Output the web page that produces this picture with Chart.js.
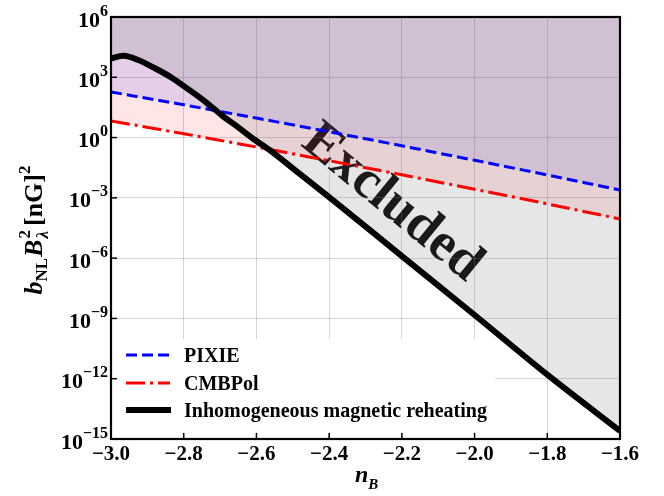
<!DOCTYPE html>
<html><head><meta charset="utf-8">
<script src="https://cdn.jsdelivr.net/npm/chart.js@4.4.1/dist/chart.umd.min.js"></script>
<style>html,body{margin:0;padding:0;background:#fff;}#wrap{width:664px;height:496px;position:relative;}</style>
</head><body><div id="wrap"><canvas id="c"></canvas></div>
<script>
// ---- data (values are log10 of b_NL B^2) ----
const nB = [-3.0, -2.8, -2.6, -2.4, -2.2, -2.0, -1.8, -1.6];
const pixieLog = [2.27, 1.63, 0.97, 0.29, -0.41, -1.13, -1.86, -2.61];
const cmbpolLog = [0.83, 0.19, -0.47, -1.15, -1.85, -2.57, -3.30, -4.05];
const reheatN = [-3.0, -2.966, -2.925, -2.879, -2.833, -2.787, -2.741, -2.696, -2.650, -2.604, -2.558, -2.5, -2.4, -2.2, -2.0, -1.8, -1.6];
const reheatLog = [3.94, 4.07, 3.86, 3.45, 2.98, 2.40, 1.79, 1.12, 0.51, -0.12, -0.70, -1.53, -2.96, -5.90, -8.83, -11.80, -14.60];
const xTicks = [-3.0, -2.8, -2.6, -2.4, -2.2, -2.0, -1.8, -1.6];
const xTickLabels = ['\u22123.0', '\u22122.8', '\u22122.6', '\u22122.4', '\u22122.2', '\u22122.0', '\u22121.8', '\u22121.6'];
const yTickExp = [6, 3, 0, -3, -6, -9, -12, -15];
const legendLabels = ['PIXIE', 'CMBPol', 'Inhomogeneous magnetic reheating'];

const SERIF = '"Liberation Serif", "Times New Roman", serif';
const pts = (xs, ls) => xs.map((x, i) => ({x: x, y: Math.pow(10, ls[i])}));

function drawRich(ctx, pieces, x, y) {
  let cx = x;
  for (const p of pieces) {
    ctx.font = p.font;
    ctx.fillText(p.t, cx, y + (p.dy || 0));
    if (!p.noAdv) cx += ctx.measureText(p.t).width + (p.sp || 0);
  }
  return cx - x;
}
function richWidth(ctx, pieces) {
  let w = 0;
  for (const p of pieces) { ctx.font = p.font; if (!p.noAdv) w += ctx.measureText(p.t).width + (p.sp || 0); }
  return w;
}

const custom = {
  id: 'custom',
  beforeDraw(chart) {
    const ctx = chart.ctx;
    ctx.save();
    ctx.translate(392, 203);
    ctx.rotate(39.5 * Math.PI / 180);
    ctx.font = 'bold 54px ' + SERIF;
    ctx.fillStyle = '#000';
    ctx.textAlign = 'center';
    ctx.textBaseline = 'middle';
    ctx.fillText('Excluded', 0, 0);
    ctx.restore();
  },
  afterDraw(chart) {
    const ctx = chart.ctx;
    const a = chart.chartArea;
    const xs = chart.scales.x, ys = chart.scales.y;
    ctx.save();
    // legend box
    ctx.fillStyle = '#fff';
    ctx.fillRect(a.left + 2, 339, 382, 93);
    const rows = [355, 383, 410];
    ctx.lineCap = 'butt';
    ctx.strokeStyle = '#0000ff'; ctx.lineWidth = 3; ctx.setLineDash([11, 5]);
    ctx.beginPath(); ctx.moveTo(126, rows[0]); ctx.lineTo(170, rows[0]); ctx.stroke();
    ctx.strokeStyle = '#ff0000'; ctx.setLineDash([19, 5, 3, 5]);
    ctx.beginPath(); ctx.moveTo(126, rows[1]); ctx.lineTo(170, rows[1]); ctx.stroke();
    ctx.strokeStyle = '#000'; ctx.lineWidth = 6; ctx.setLineDash([]);
    ctx.beginPath(); ctx.moveTo(126, rows[2]); ctx.lineTo(171, rows[2]); ctx.stroke();
    ctx.fillStyle = '#000';
    ctx.font = 'bold 20px ' + SERIF;
    ctx.textAlign = 'left'; ctx.textBaseline = 'alphabetic';
    legendLabels.forEach((t, i) => ctx.fillText(t, 184, rows[i] + 7));

    // frame
    ctx.strokeStyle = '#000'; ctx.lineWidth = 2.2;
    ctx.strokeRect(a.left, a.top, a.right - a.left, a.bottom - a.top);
    // inward ticks
    ctx.lineWidth = 1.5;
    xTicks.forEach(v => {
      const px = xs.getPixelForValue(v);
      ctx.beginPath(); ctx.moveTo(px, a.bottom); ctx.lineTo(px, a.bottom - 6); ctx.stroke();
    });
    yTickExp.forEach(e => {
      const py = ys.getPixelForValue(Math.pow(10, e));
      ctx.beginPath(); ctx.moveTo(a.left, py); ctx.lineTo(a.left + 6, py); ctx.stroke();
    });
    // x tick labels
    ctx.font = 'bold 21px ' + SERIF;
    ctx.textAlign = 'center';
    xTicks.forEach((v, i) => {
      ctx.fillText(xTickLabels[i], xs.getPixelForValue(v), a.bottom + 21);
    });
    // y tick labels
    ctx.textAlign = 'left';
    yTickExp.forEach(e => {
      const py = ys.getPixelForValue(Math.pow(10, e));
      const sup = e < 0 ? '\u2212' + (-e) : String(e);
      const pieces = [
        {t: '10', font: 'bold 22px ' + SERIF},
        {t: sup, font: 'bold 16px ' + SERIF, dy: -11}
      ];
      const w = richWidth(ctx, pieces);
      drawRich(ctx, pieces, a.left - 3 - w, py + 9.5);
    });
    // x title
    drawRich(ctx, [
      {t: 'n', font: 'italic bold 24px ' + SERIF},
      {t: 'B', font: 'italic bold 15px ' + SERIF, dy: 7}
    ], 355, 482);
    // y title
    ctx.save();
    ctx.translate(42, 230);
    ctx.rotate(-Math.PI / 2);
    const yp = [
      {t: 'b', font: 'italic bold 26px ' + SERIF},
      {t: 'NL', font: 'bold 17px ' + SERIF, dy: 5, sp: 1},
      {t: 'B', font: 'italic bold 26px ' + SERIF, sp: 1},
      {t: '2', font: 'bold 17px ' + SERIF, dy: -12, noAdv: true},
      {t: '\u03bb', font: 'italic bold 17px ' + SERIF, dy: 6, sp: 5},
      {t: '[nG]', font: 'bold 26px ' + SERIF},
      {t: '2', font: 'bold 17px ' + SERIF, dy: -12}
    ];
    const yw = richWidth(ctx, yp);
    drawRich(ctx, yp, -yw / 2, 0);
    ctx.restore();
    ctx.restore();
  }
};

const gridOpts = {color: 'rgba(128,128,128,0.32)', lineWidth: 1, drawTicks: false};
new Chart(document.getElementById('c'), {
  type: 'line',
  data: {
    datasets: [
      {label: legendLabels[2], data: pts(reheatN, reheatLog), borderColor: '#000', borderWidth: 6,
       pointRadius: 0, fill: 'end', backgroundColor: 'rgba(128,128,128,0.2)', cubicInterpolationMode: 'monotone'},
      {label: legendLabels[0], data: pts(nB, pixieLog), borderColor: '#0000ff', borderWidth: 3, borderDash: [11, 5],
       pointRadius: 0, fill: 'end', backgroundColor: 'rgba(0,0,255,0.1)'},
      {label: legendLabels[1], data: pts(nB, cmbpolLog), borderColor: '#ff0000', borderWidth: 3, borderDash: [19, 5, 3, 5],
       pointRadius: 0, fill: 'end', backgroundColor: 'rgba(255,0,0,0.1)'}
    ]
  },
  options: {
    responsive: true, maintainAspectRatio: false, animation: false,
    layout: {padding: {left: 0, right: 44, top: 17, bottom: 0}},
    plugins: {legend: {display: false}, tooltip: {enabled: false}, filler: {drawTime: 'beforeDatasetsDraw'}},
    scales: {
      x: {type: 'linear', min: -3.0, max: -1.6,
          afterBuildTicks: s => { s.ticks = xTicks.map(v => ({value: v})); },
          ticks: {display: false}, grid: gridOpts, border: {display: false},
          afterFit: s => { s.height = 57; }},
      y: {type: 'logarithmic', min: 1e-15, max: 1e6,
          afterBuildTicks: s => { s.ticks = yTickExp.map(e => ({value: Math.pow(10, e)})); },
          ticks: {display: false}, grid: gridOpts, border: {display: false},
          afterFit: s => { s.width = 111; }}
    }
  },
  plugins: [custom]
});
</script></body></html>
